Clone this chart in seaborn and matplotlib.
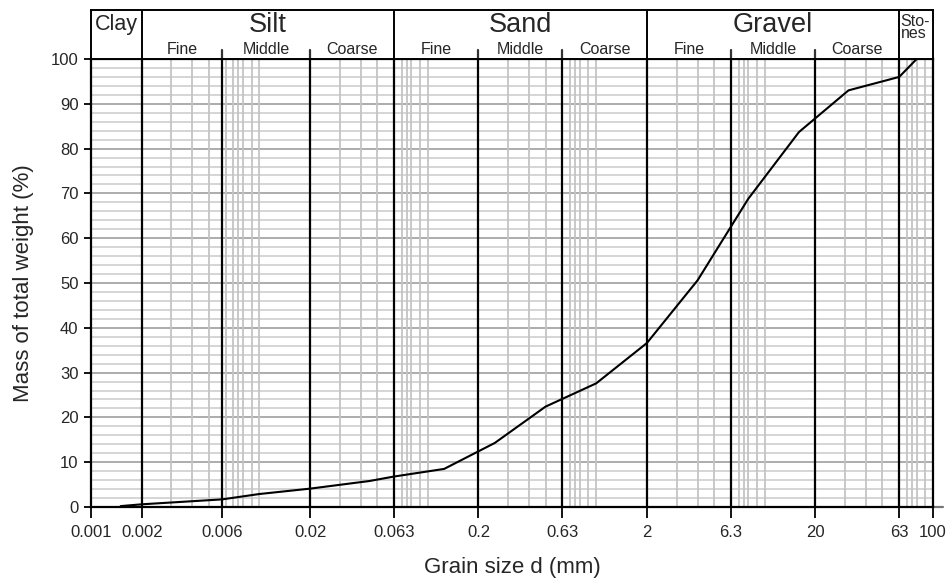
"""
Grain size distribution curve (sieve + hydrometer) with soil class header.
"""

import numpy as np
import pandas as pd
import matplotlib
matplotlib.use("Agg")
import matplotlib.pyplot as plt
import seaborn as sns

# measured curve
GRAIN_MM = [0.0015, 0.002, 0.006, 0.01, 0.02, 0.045, 0.063, 0.125, 0.25, 0.5,
            1.0, 2.0, 4.0, 8.0, 16.0, 31.5, 63.0, 80.0]
PASSING  = [0.2, 0.6, 1.7, 2.9, 4.1, 5.8, 6.8, 8.5, 14.3, 22.4,
            27.6, 36.6, 50.6, 68.8, 83.7, 93.0, 96.0, 100.0]

# axis / classification layout
TICKS       = [0.001, 0.002, 0.006, 0.02, 0.063, 0.2, 0.63, 2, 6.3, 20, 63, 100]
TICK_LABELS = ["0.001", "0.002", "0.006", "0.02", "0.063", "0.2", "0.63",
               "2", "6.3", "20", "63", "100"]
BOUNDS      = [0.002, 0.006, 0.02, 0.063, 0.2, 0.63, 2, 6.3, 20, 63]
MAIN_EDGES  = [0.001, 0.002, 0.063, 2, 63, 100]
MAIN_NAMES  = ["Clay", "Silt", "Sand", "Gravel", "Sto-\nnes"]
SUB_NAMES   = ["Fine", "Middle", "Coarse"]
MINOR_STEPS = [1, 3, 4, 5, 6.3, 7, 7.5, 8, 9]
DECADES     = [0.001, 0.01, 0.1, 1, 10]

W, H = 952, 585
AX_L, AX_R, AX_T, AX_B = 91, 933, 59, 507
HEAD_T = 10

sns.set_theme(style="white")
plt.rcParams["font.family"] = ["Liberation Sans", "DejaVu Sans"]

fig = plt.figure(figsize=(W / 100, H / 100), dpi=100)
ax = fig.add_axes([AX_L / W, 1 - AX_B / H, (AX_R - AX_L) / W, (AX_B - AX_T) / H])
hax = fig.add_axes([AX_L / W, 1 - AX_T / H, (AX_R - AX_L) / W, (AX_T - HEAD_T) / H],
                   sharex=ax)

ax.set_xscale("log")
ax.set_xlim(0.001, 100)
ax.set_ylim(0, 100)

# horizontal grid every 2 %, darker every 10 %
for y in range(2, 100, 2):
    ax.axhline(y, color="#a6a6a6" if y % 10 == 0 else "#d2d2d2", lw=1.3, zorder=1)

# minor vertical grid
for d in DECADES:
    for m in MINOR_STEPS:
        v = round(m * d, 6)
        if 0.001 < v < 100 and v not in BOUNDS:
            ax.axvline(v, color="#c4c4c4", lw=1.3, zorder=1)

# class boundaries
for b in BOUNDS:
    ax.axvline(b, color="black", lw=1.6, zorder=2)

df = pd.DataFrame({"d": GRAIN_MM, "p": PASSING})
sns.lineplot(data=df, x="d", y="p", color="black", lw=1.5, ax=ax, zorder=3)

ax.set_xticks(TICKS, TICK_LABELS)
ax.xaxis.set_minor_locator(matplotlib.ticker.NullLocator())
ax.set_yticks(range(0, 101, 10))
ax.tick_params(axis="x", direction="out", length=8, width=1.3, color="black",
               labelsize=12, pad=5, bottom=True)
ax.tick_params(axis="y", direction="out", length=5, width=1.3, color="black",
               labelsize=12, pad=4, left=True)
for s in ax.spines.values():
    s.set_visible(True)
    s.set_color("black")
    s.set_linewidth(1.6)
ax.plot([1.0, 1.012], [0, 0], transform=ax.transAxes, color="#777777",
        lw=1.6, clip_on=False)

ax.set_xlabel("Grain size d (mm)", fontsize=16, labelpad=12)
ax.set_ylabel("Mass of total weight (%)", fontsize=16, labelpad=12)

# header with soil classes
hax.set_ylim(0, 1)
hax.tick_params(axis="both", which="both", bottom=False, left=False,
                labelbottom=False, labelleft=False)
for s in hax.spines.values():
    s.set_visible(True)
    s.set_color("black")
    s.set_linewidth(1.4)

for e in MAIN_EDGES[1:-1]:
    hax.axvline(e, color="black", lw=1.4)
for b in BOUNDS:
    if b not in MAIN_EDGES:
        hax.axvline(b, ymin=0, ymax=0.19, color="#333333", lw=1.6)

for i, name in enumerate(MAIN_NAMES):
    lo, hi = MAIN_EDGES[i], MAIN_EDGES[i + 1]
    if name == "Clay":
        hax.text(lo * 1.06, 0.7, name, fontsize=15.5, ha="left", va="center")
    elif name.startswith("Sto"):
        hax.text(lo * 1.02, 0.92, name, fontsize=11.5, ha="left", va="top",
                 linespacing=0.72)
    else:
        hax.text(np.sqrt(lo * hi), 0.70, name, fontsize=19.5, ha="center", va="center")

sub_edges = [e for e in sorted(set(BOUNDS + MAIN_EDGES)) if 0.002 <= e <= 63]
for i in range(len(sub_edges) - 1):
    lo, hi = sub_edges[i], sub_edges[i + 1]
    hax.text(np.sqrt(lo * hi), 0.1, SUB_NAMES[i % 3], fontsize=11.5,
             ha="center", va="baseline")

fig.savefig("out.png", dpi=100)
